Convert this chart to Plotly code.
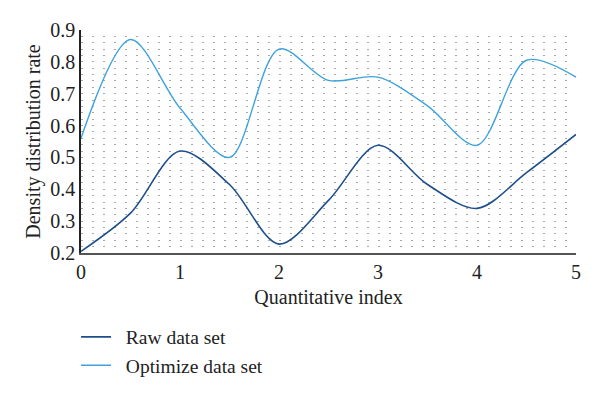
import plotly.graph_objects as go

x_vals = [0, 0.5, 1, 1.5, 2, 2.5, 3, 3.5, 4, 4.5, 5]
raw_data = [0.205, 0.325, 0.52, 0.415, 0.228, 0.365, 0.538, 0.415, 0.34, 0.452, 0.572]
optimize_data = [0.56, 0.87, 0.655, 0.5, 0.84, 0.742, 0.752, 0.662, 0.538, 0.805, 0.752]

x_ticks = [0, 1, 2, 3, 4, 5]
y_ticks = [0.2, 0.3, 0.4, 0.5, 0.6, 0.7, 0.8, 0.9]
y_tick_text = ["0.2", "0.3", "0.4", "0.5", "0.6", "0.7", "0.8", "0.9"]
series_names = ["Raw data set", "Optimize data set"]

font_family = "Liberation Serif"
tick_fnt = dict(family=font_family, size=20, color="#222")
title_fnt = dict(family=font_family, size=20, color="#222")
pad = "\u00a0\u00a0"

fig = go.Figure()
fig.add_trace(go.Scatter(x=x_vals, y=raw_data, mode="lines", name=pad + series_names[0],
                         line=dict(color="#1d4f8c", width=1.6, shape="spline", smoothing=0.9)))
fig.add_trace(go.Scatter(x=x_vals, y=optimize_data, mode="lines", name=pad + series_names[1],
                         line=dict(color="#3ea3dc", width=1.4, shape="spline", smoothing=0.9)))

dot = "1.5px,9.5px"
grid_col = "#a8a8a8"
fig.update_layout(
    width=592, height=386,
    margin=dict(l=73, r=24, t=22, b=141, autoexpand=False),
    paper_bgcolor="white", plot_bgcolor="white",
    font=tick_fnt,
    showlegend=True,
    legend=dict(x=-0.01, y=-0.29, xanchor="left", yanchor="top",
                font=dict(family=font_family, size=19.5, color="#222"),
                bgcolor="rgba(0,0,0,0)", tracegroupgap=0, itemwidth=30),
    xaxis=dict(range=[0, 5], tickvals=x_ticks, ticktext=[str(t) for t in x_ticks],
               showgrid=False, zeroline=False, showline=True, linecolor="#555", linewidth=1.5,
               ticks="", automargin=False,
               title=dict(text="Quantitative index", standoff=8, font=title_fnt),
               tickfont=tick_fnt),
    yaxis=dict(range=[0.2, 0.9], tickvals=y_ticks, ticktext=y_tick_text,
               showgrid=True, gridcolor=grid_col, gridwidth=1.4, griddash=dot,
               minor=dict(dtick=0.02, tick0=0.2, showgrid=True, gridcolor=grid_col, gridwidth=1.4, griddash=dot),
               zeroline=False, showline=True, linecolor="#222", linewidth=1.5,
               ticks="", automargin=False,
               title=dict(text="Density distribution rate", standoff=4, font=title_fnt),
               tickfont=tick_fnt),
)

fig.write_html("out.html")
